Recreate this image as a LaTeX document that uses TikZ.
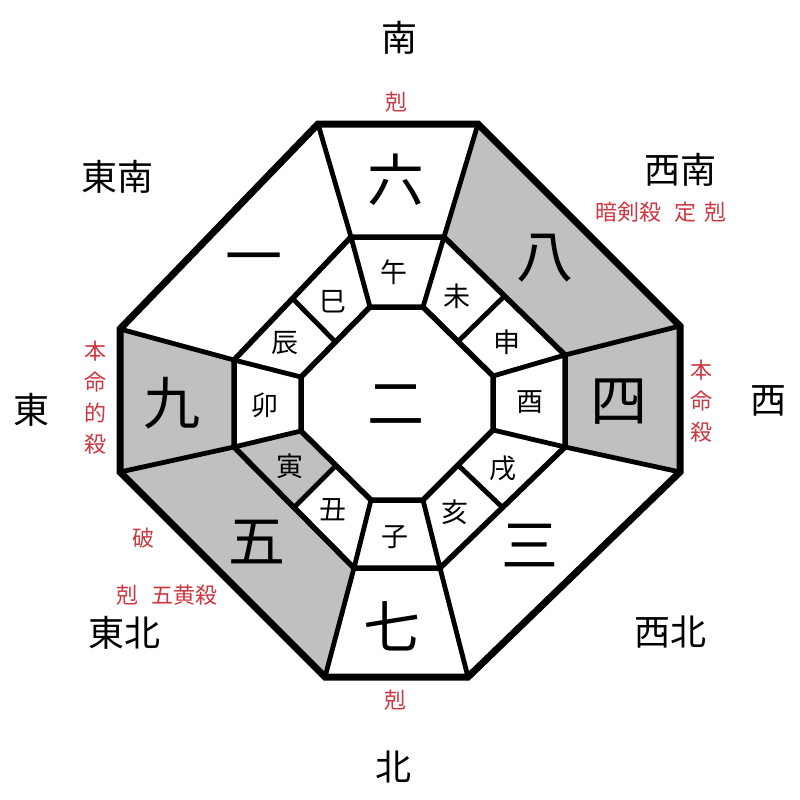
\documentclass[tikz,border=0pt]{standalone}
\usepackage{fontspec}
\newfontfamily\cjk{Noto Sans CJK JP}
\usetikzlibrary{calc}
\definecolor{redlab}{RGB}{205,55,65}
\definecolor{shadegray}{RGB}{192,192,192}
\begin{document}
\begin{tikzpicture}[x=1pt,y=-1pt,
  outerline/.style={line width=7pt},
  ringline/.style={line width=5.5pt},
  spoke/.style={line width=4.8pt},
  cellfill/.style={fill=shadegray},
  big/.style={font=\cjk\fontsize{57}{64}\selectfont, inner sep=0pt},
  branch/.style={font=\cjk\fontsize{27}{32}\selectfont, inner sep=0pt},
  dirlab/.style={font=\cjk\fontsize{36}{42}\selectfont, inner sep=0pt},
  note/.style={font=\cjk\fontsize{22}{26}\selectfont, text=redlab, inner sep=0pt},
  vnote/.style={font=\cjk\fontsize{22}{31}\selectfont, text=redlab, inner sep=0pt, align=center},
]
\fill[white] (0,0) rectangle (800,800);
\useasboundingbox (0,0) rectangle (800,800);

% outer octagon
\coordinate (O1) at (318,124);
\coordinate (O2) at (478,124);
\coordinate (O3) at (680,326);
\coordinate (O4) at (680,472);
\coordinate (O5) at (468,677);
\coordinate (O6) at (325,677);
\coordinate (O7) at (120,472);
\coordinate (O8) at (120,329);
% middle ring
\coordinate (M1) at (351,237);
\coordinate (M2) at (444,237);
\coordinate (M3) at (565,355);
\coordinate (M4) at (565,447);
\coordinate (M5) at (440,568);
\coordinate (M6) at (354,568);
\coordinate (M7) at (234,447);
\coordinate (M8) at (234,360);
% inner octagon
\coordinate (I1) at (370,307);
\coordinate (I2) at (423,307);
\coordinate (I3) at (493,376);
\coordinate (I4) at (493,430);
\coordinate (I5) at (423,500);
\coordinate (I6) at (371,500);
\coordinate (I7) at (301,431);
\coordinate (I8) at (301,377);
% split points
\coordinate (MNE) at ($(M2)!0.5!(M3)$);
\coordinate (INE) at ($(I2)!0.5!(I3)$);
\coordinate (MSE) at ($(M4)!0.5!(M5)$);
\coordinate (ISE) at ($(I4)!0.5!(I5)$);
\coordinate (MSW) at ($(M6)!0.5!(M7)$);
\coordinate (ISW) at ($(I6)!0.5!(I7)$);
\coordinate (MNW) at ($(M8)!0.5!(M1)$);
\coordinate (INW) at ($(I8)!0.5!(I1)$);

% shaded cells
\fill[cellfill] (O2) -- (O3) -- (M3) -- (M2) -- cycle;
\fill[cellfill] (O3) -- (O4) -- (M4) -- (M3) -- cycle;
\fill[cellfill] (O7) -- (O8) -- (M8) -- (M7) -- cycle;
\fill[cellfill] (O6) -- (O7) -- (M7) -- (M6) -- cycle;
\fill[cellfill] (M7) -- (MSW) -- (ISW) -- (I7) -- cycle;

% spokes outer -> middle
\foreach \k in {1,...,8} {\draw[spoke] (O\k) -- (M\k);}
% spokes middle -> inner
\foreach \k in {1,...,8} {\draw[spoke] (M\k) -- (I\k);}
\draw[spoke] (MNE) -- (INE);
\draw[spoke] (MSE) -- (ISE);
\draw[spoke] (MSW) -- (ISW);
\draw[spoke] (MNW) -- (INW);

% rings
\draw[ringline] (M1) -- (M2) -- (M3) -- (M4) -- (M5) -- (M6) -- (M7) -- (M8) -- cycle;
\draw[ringline] (I1) -- (I2) -- (I3) -- (I4) -- (I5) -- (I6) -- (I7) -- (I8) -- cycle;
\draw[outerline] (O1) -- (O2) -- (O3) -- (O4) -- (O5) -- (O6) -- (O7) -- (O8) -- cycle;

% big numbers
\node[big] (n6) at (396,180) {六};
\node[big] (n8) at (545,258) {八};
\node[big] (n1) at (254,265) {一};
\node[big] (n9) at (172,403) {九};
\node[big] (n4) at (619,402) {四};
\node[big] (n2) at (396,405) {二};
\node[big] (n5) at (257,542) {五};
\node[big] (n3) at (530,546) {三};
\node[big] (n7) at (392,626) {七};

% branches
\node[branch] (b1) at (394,272) {午};
\node[branch] (b2) at (457,296) {未};
\node[branch] (b3) at (507,342) {申};
\node[branch] (b4) at (530,402) {酉};
\node[branch] (b5) at (503,468) {戌};
\node[branch] (b6) at (455,512) {亥};
\node[branch] (b7) at (395,537) {子};
\node[branch] (b8) at (333,510) {丑};
\node[branch] (b9) at (290,466) {寅};
\node[branch] (b10) at (265,405) {卯};
\node[branch] (b11) at (285,343) {辰};
\node[branch] (b12) at (333,302) {巳};

% directions
\node[dirlab] (dS) at (399,38) {南};
\node[dirlab] (dSE) at (117,177) {東南};
\node[dirlab] (dSW) at (680,170) {西南};
\node[dirlab] (dE) at (31,410) {東};
\node[dirlab] (dW) at (768,401) {西};
\node[dirlab] (dNE) at (124,633) {東北};
\node[dirlab] (dNW) at (670,632) {西北};
\node[dirlab] (dN) at (393,767) {北};

% red notes
\node[note] (rS) at (396,102) {剋};
\node[note] (rSW) at (661,212) {暗剣殺\hspace{0.6em}定\hspace{0.35em}剋};
\node[vnote] (rE) at (95,398) {本\\命\\的\\殺};
\node[vnote] (rW) at (701,401) {本\\命\\殺};
\node[note] (rNE1) at (143,538) {破};
\node[note] (rNE2) at (167,595) {剋\hspace{0.6em}五黄殺};
\node[note] (rN) at (395,700) {剋};
\end{tikzpicture}
\end{document}
